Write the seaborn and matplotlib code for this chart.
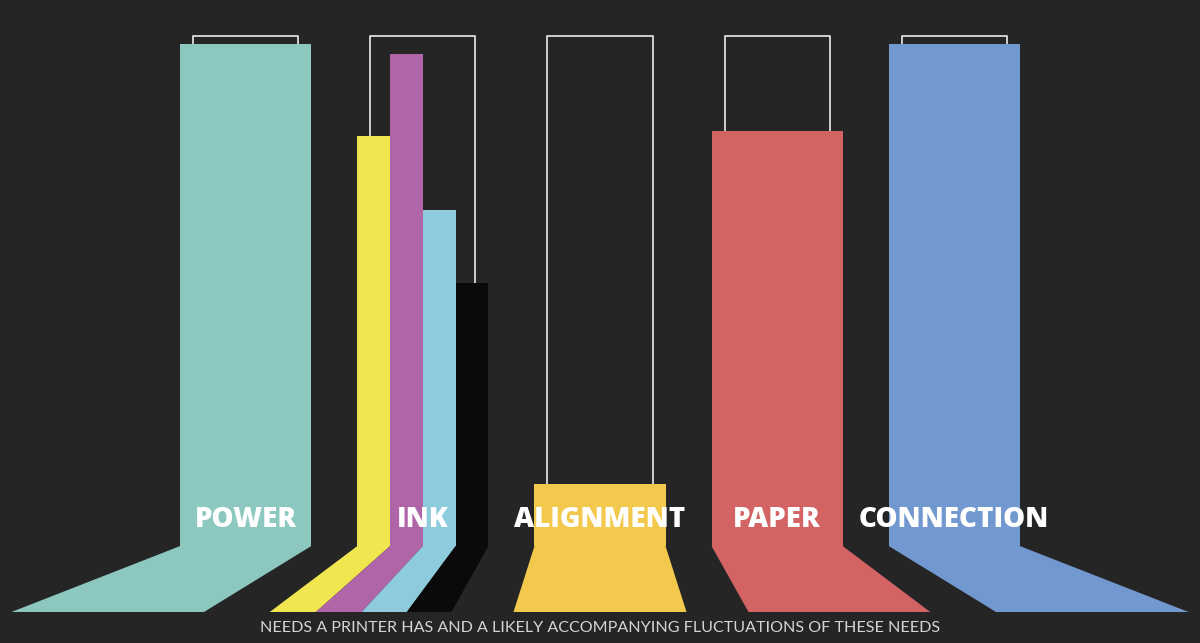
import pandas as pd
import matplotlib.pyplot as plt
import seaborn as sns

# needs of a printer, 0 = empty, 100 = full capacity
categories = ['POWER', 'INK', 'ALIGNMENT', 'PAPER', 'CONNECTION']
need_levels = [98.4, None, 12.2, 81.4, 98.4]
need_colors = ['#8cc8c0', '#000000', '#f2c94c', '#d46464', '#7298d0']

ink_names = ['Yellow', 'Magenta', 'Cyan', 'Black']
ink_levels = [80.4, 96.5, 65.9, 51.6]
ink_colors = ['#f0e64f', '#b065a8', '#8ecbdc', '#0a0a0a']

capacity = 100
caption = 'NEEDS A PRINTER HAS AND A LIKELY ACCOMPANYING FLUCTUATIONS OF THESE NEEDS'

bg = '#252525'
sns.set_theme(style='dark', rc={'axes.facecolor': bg, 'figure.facecolor': bg})
plt.rcParams['font.family'] = ['Open Sans', 'DejaVu Sans']

needs = pd.DataFrame({'need': categories, 'level': need_levels}).dropna()
ink = pd.DataFrame({'need': 'INK', 'cartridge': ink_names, 'level': ink_levels})

fig = plt.figure(figsize=(12, 6.43), dpi=100)
ax = fig.add_axes([0, 0, 1, 1])

bar_w = 0.74
sns.barplot(data=needs, x='need', y='level', hue='need', order=categories,
            palette=dict(zip(categories, need_colors)), width=bar_w,
            saturation=1, linewidth=0, errorbar=None, legend=False, ax=ax)
sns.barplot(data=ink, x='need', y='level', hue='cartridge', order=categories,
            hue_order=ink_names, palette=ink_colors, width=bar_w, dodge=True,
            saturation=1, linewidth=0, errorbar=None, legend=False, ax=ax)

# the "feet" - each bar spreads out towards the viewer, a bit more at the edges
foot_depth = 12.94
mid = (len(categories) - 1) / 2


def spread(x):
    d = x - mid
    return mid + d * (1.305 + 0.041 * abs(d))


for p in list(ax.patches):
    l = p.get_x()
    r = l + p.get_width()
    ax.fill([l, r, spread(r), spread(l)],
            [0, 0, -foot_depth, -foot_depth],
            color=p.get_facecolor(), lw=0, zorder=1)

# capacity outlines behind the bars
cap_w = 0.593
for i in range(len(categories)):
    ax.plot([i - cap_w / 2, i - cap_w / 2, i + cap_w / 2, i + cap_w / 2],
            [0, capacity, capacity, 0], color='#dcdcdc', lw=1.3, zorder=0.5)

for i, name in enumerate(categories):
    ax.text(i, 5.1, name, ha='center', va='center', color='white',
            fontsize=20, fontweight='extra bold', zorder=5)

ax.text(mid, -16.1, caption, ha='center', va='center', color='#d4d4d4',
        fontsize=11.6, fontfamily=['Lato', 'DejaVu Sans'], fontweight='normal')

half = 600 / 177.1
ax.set_xlim(mid - half, mid + half)
ax.set_ylim(-19.02, 107.06)
ax.set_axis_off()

plt.savefig('out.png', dpi=100, facecolor=bg)
